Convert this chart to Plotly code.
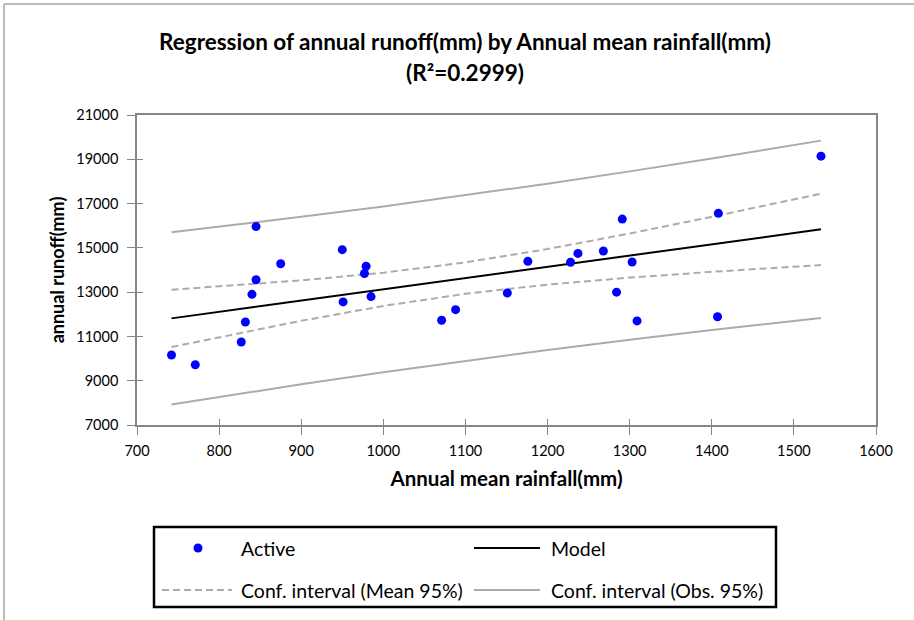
import plotly.graph_objects as go

# Observations
rainfall = [742, 771, 827, 832, 840, 845, 845, 875, 950, 951, 977, 979, 985,
            1071, 1088, 1151, 1176, 1228, 1237, 1268, 1284, 1291, 1303, 1309,
            1407, 1408, 1533]
runoff = [10160, 9720, 10750, 11650, 12900, 13560, 15960, 14280, 14920, 12560,
          13840, 14170, 12800, 11730, 12210, 12960, 14390, 14350, 14750, 14860,
          13000, 16300, 14360, 11700, 11890, 16560, 19140]

# Fitted model and 95% bands
model_x = [742, 1533]
model_y = [11815, 15836]
band_x = [742, 800, 900, 1000, 1100, 1200, 1300, 1400, 1533]
mean_lo = [10521, 10968, 11706, 12375, 12926, 13340, 13656, 13917, 14224]
mean_hi = [13109, 13253, 13531, 13879, 14344, 14946, 15648, 16403, 17448]
obs_lo = [7925, 8267, 8838, 9382, 9898, 10387, 10850, 11286, 11829]
obs_hi = [15705, 15953, 16400, 16872, 17372, 17899, 18454, 19034, 19843]

title_text = "Regression of annual runoff(mm) by Annual mean rainfall(mm)"
subtitle_text = "(R²=0.2999)"
legend_labels = ["Active", "Model", "Conf. interval (Mean 95%)", "Conf. interval (Obs. 95%)"]

W, H = 914, 620
PL, PR, PT, PB = 137, 876, 115, 425
FONT = "Lato"
GREY = "#ABABAB"
AXIS = "#868686"


def px(x):
    return (x - PL) / (PR - PL)


def py(y):
    return (PB - y) / (PB - PT)


fig = go.Figure()
fig.add_trace(go.Scatter(x=band_x, y=obs_hi, mode="lines",
                         line=dict(color=GREY, width=2), showlegend=False))
fig.add_trace(go.Scatter(x=band_x, y=obs_lo, mode="lines",
                         line=dict(color=GREY, width=2), showlegend=False))
fig.add_trace(go.Scatter(x=band_x, y=mean_hi, mode="lines",
                         line=dict(color=GREY, width=2, dash="7px,4px"), showlegend=False))
fig.add_trace(go.Scatter(x=band_x, y=mean_lo, mode="lines",
                         line=dict(color=GREY, width=2, dash="7px,4px"), showlegend=False))
fig.add_trace(go.Scatter(x=model_x, y=model_y, mode="lines",
                         line=dict(color="black", width=2), showlegend=False))
fig.add_trace(go.Scatter(x=rainfall, y=runoff, mode="markers",
                         marker=dict(color="#0000FF", size=9), showlegend=False))
# empty trace carrying the overlay axes used for inner tick marks
fig.add_trace(go.Scatter(x=[], y=[], xaxis="x2", yaxis="y2", showlegend=False))

tickfont = dict(family=FONT, size=14.5, color="black")
fig.update_layout(
    width=W, height=H,
    margin=dict(l=PL, r=W - PR, t=PT, b=H - PB, autoexpand=False),
    paper_bgcolor="white", plot_bgcolor="white",
    showlegend=False,
    title=dict(text=title_text, x=465 / W, xref="container", xanchor="center",
               y=1 - 42 / H, yref="container", yanchor="middle",
               font=dict(family=FONT, size=22.5, color="black", weight="bold")),
    xaxis=dict(range=[700, 1600], dtick=100, tick0=700, showgrid=False, zeroline=False,
               showline=True, mirror=True, linecolor=AXIS, linewidth=1.5,
               ticks="outside", ticklen=8, tickwidth=1.2, tickcolor=AXIS,
               tickfont=tickfont, ticklabelstandoff=4, tickformat="d",
               title=dict(text="Annual mean rainfall(mm)", standoff=13,
                          font=dict(family=FONT, size=20.5, color="black", weight="bold"))),
    yaxis=dict(range=[7000, 21000], dtick=2000, tick0=7000, showgrid=False, zeroline=False,
               showline=True, mirror=True, linecolor=AXIS, linewidth=1.5,
               ticks="outside", ticklen=8, tickwidth=1.2, tickcolor=AXIS,
               tickfont=tickfont, ticklabelstandoff=6, tickformat="d",
               title=dict(text="annual runoff(mm)", standoff=7,
                          font=dict(family=FONT, size=18, color="black", weight="bold"))),
    xaxis2=dict(range=[700, 1600], dtick=100, tick0=700, overlaying="x", anchor="y2",
                showgrid=False, zeroline=False, showline=False, showticklabels=False,
                ticks="inside", ticklen=6, tickwidth=1.2, tickcolor=AXIS),
    yaxis2=dict(range=[7000, 21000], dtick=2000, tick0=7000, overlaying="y", anchor="x2",
                showgrid=False, zeroline=False, showline=False, showticklabels=False,
                ticks="inside", ticklen=6, tickwidth=1.2, tickcolor=AXIS),
)

annotations = [
    dict(text=subtitle_text, x=px(465), y=py(72), xref="paper", yref="paper",
         xanchor="center", yanchor="middle", showarrow=False,
         font=dict(family=FONT, size=22.5, color="black", weight="bold")),
]
leg_font = dict(family=FONT, size=19.5, color="black")
for label, (lx, ly) in zip(legend_labels, [(239, 548), (549, 548), (239, 590), (549, 590)]):
    annotations.append(dict(text=label, x=px(lx), y=py(ly), xref="paper", yref="paper",
                            xanchor="left", yanchor="middle", showarrow=False, font=leg_font))
fig.update_layout(annotations=annotations)

shapes = [
    # outer chart frame (top and left edges)
    dict(type="line", x0=px(4), x1=px(W + 2), y0=py(4), y1=py(4), xref="paper", yref="paper",
         line=dict(color="#A6A6A6", width=1.5)),
    dict(type="line", x0=px(4), x1=px(4), y0=py(4), y1=py(H + 2), xref="paper", yref="paper",
         line=dict(color="#A6A6A6", width=1.5)),
    # legend box
    dict(type="rect", x0=px(154), x1=px(776), y0=py(527), y1=py(607), xref="paper", yref="paper",
         line=dict(color="black", width=2.5), fillcolor="rgba(0,0,0,0)"),
    # legend symbols
    dict(type="circle", x0=px(193.5), x1=px(202.5), y0=py(543.5), y1=py(552.5),
         xref="paper", yref="paper", fillcolor="#0000FF", line=dict(width=0)),
    dict(type="line", x0=px(474), x1=px(540), y0=py(548), y1=py(548), xref="paper", yref="paper",
         line=dict(color="black", width=2)),
    dict(type="line", x0=px(162), x1=px(232), y0=py(590), y1=py(590), xref="paper", yref="paper",
         line=dict(color=GREY, width=2, dash="7px,4px")),
    dict(type="line", x0=px(474), x1=px(540), y0=py(590), y1=py(590), xref="paper", yref="paper",
         line=dict(color=GREY, width=2)),
]
fig.update_layout(shapes=shapes)

fig.write_html("out.html")
